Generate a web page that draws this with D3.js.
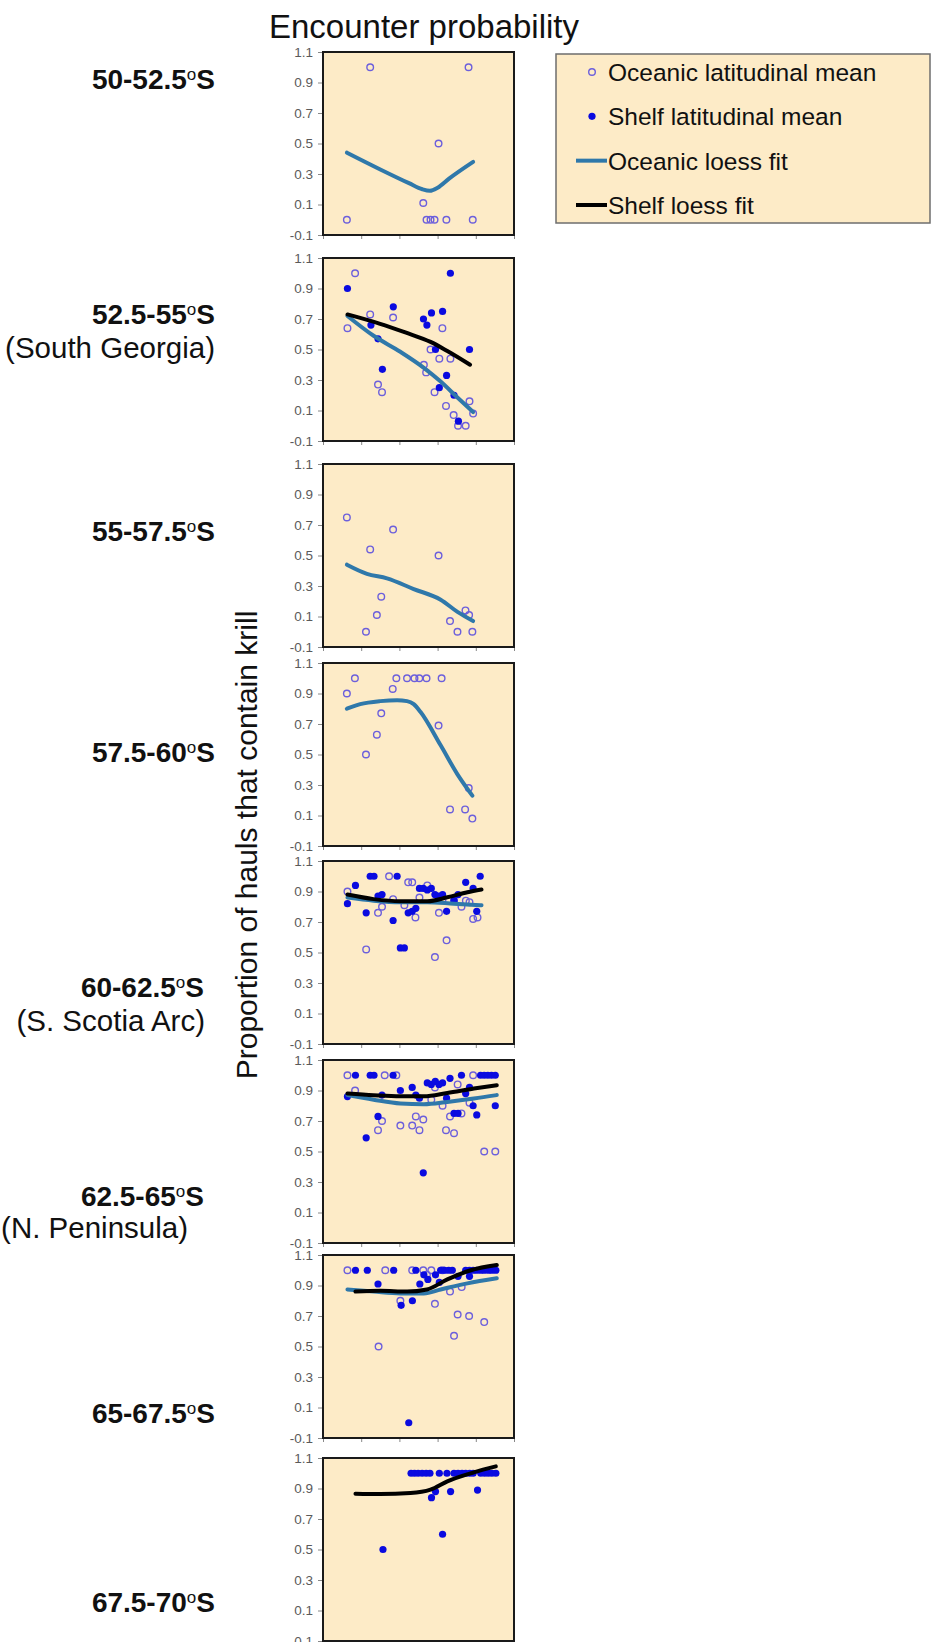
<!DOCTYPE html>
<html>
<head>
<meta charset="utf-8">
<script src="https://cdn.jsdelivr.net/npm/d3@7"></script>
<style>
  html, body { margin: 0; padding: 0; background: #fff; }
  svg { display: block; font-family: "Liberation Sans", Arial, sans-serif; }
</style>
</head>
<body>
<svg id="chart" width="933" height="1642"></svg>
<script>
// latitude bands, one panel each
const regions = ["50-52.5", "52.5-55", "55-57.5", "57.5-60", "60-62.5", "62.5-65", "65-67.5", "67.5-70"];
const subLabels = ["", "(South Georgia)", "", "", "(S. Scotia Arc)", "(N. Peninsula)", "", ""];

const yTicks = [-0.1, 0.1, 0.3, 0.5, 0.7, 0.9, 1.1];
const xTicks = [0, 20, 40, 60, 80, 100];

// oceanic latitudinal means [x, proportion]
const oceanic = [
  [[12.5,0],[24.7,1],[76.2,1],[60.5,0.5],[52.5,0.11],[54.2,0],[56.3,0],[58.4,0],[64.6,0],[78.4,0]],
  [[12.8,0.64],[16.8,1],[24.7,0.73],[36.7,0.71],[28.8,0.27],[30.9,0.22],[52.8,0.4],[54,0.35],[56.3,0.5],[58.4,0.22],
   [60.9,0.44],[62.5,0.64],[64.4,0.13],[66.7,0.44],[68.4,0.07],[70.7,0],[74.7,0],[76.7,0.16],[78.6,0.08]],
  [[12.5,0.75],[24.7,0.54],[36.7,0.67],[22.5,0],[28.2,0.11],[30.5,0.23],[60.5,0.5],[66.5,0.07],[70.4,0],[74.6,0.14],[76.5,0.11],[78.2,0]],
  [[12.5,0.9],[16.7,1],[22.5,0.5],[28.2,0.63],[30.5,0.77],[36.5,0.93],[38.4,1],[44,1],[47.9,1],[50.4,1],[54.2,1],
   [62.1,1],[60.5,0.69],[66.5,0.14],[74.4,0.14],[76.3,0.28],[78.2,0.08]],
  [[12.8,0.9],[22.6,0.52],[28.8,0.76],[30.9,0.8],[34.6,1],[36.7,0.85],[42.6,0.81],[44.6,0.96],[46.7,0.96],[48.4,0.73],
   [50.5,0.86],[54.6,0.94],[58.6,0.47],[60.7,0.76],[62.6,0.85],[64.7,0.58],[68.6,0.84],[72.5,0.8],[74.8,0.84],
   [76.7,0.83],[78.6,0.72],[80.9,0.73]],
  [[12.8,1],[16.8,0.9],[32.3,1],[38.4,1],[28.8,0.64],[30.9,0.7],[40.5,0.67],[46.7,0.67],[48.6,0.73],[50.5,0.64],
   [52.5,0.71],[56.7,0.84],[58.6,0.92],[62.6,0.8],[64.4,0.64],[66.5,0.73],[68.6,0.62],[70.5,0.94],[72.5,0.75],
   [76.7,0.82],[78.6,1],[84.4,0.5],[90.2,0.5]],
  [[12.8,1],[32.6,1],[46.7,1],[52.5,1],[56.7,1],[62.6,1],[29.1,0.5],[40.5,0.8],[58.6,0.78],[66.5,0.86],[68.6,0.57],
   [70.5,0.71],[72.6,0.89],[76.5,0.7],[84.4,0.66],[54.4,0.97]],
  []
];

// shelf latitudinal means [x, proportion]
const shelf = [
  [],
  [[12.8,0.9],[25.1,0.66],[28.8,0.57],[31.1,0.37],[36.8,0.78],[52.6,0.7],[54.4,0.66],[56.8,0.74],[58.9,0.5],
   [62.6,0.75],[64.7,0.33],[66.7,1],[60.9,0.25],[68.6,0.2],[70.9,0.03],[76.7,0.5]],
  [],
  [],
  [[12.8,0.82],[17,0.94],[22.6,0.76],[24.7,1],[26.7,1],[28.8,0.87],[30.9,0.88],[36.7,0.71],[38.8,1],[40.5,0.53],
   [42.6,0.53],[44.6,0.76],[46.7,0.77],[48.6,0.79],[50.5,0.92],[52.5,0.92],[54.6,0.91],[56.7,0.92],[58.6,0.88],
   [60.7,0.87],[62.6,0.88],[64.7,0.77],[68.6,0.84],[70.7,0.88],[74.7,0.96],[78.6,0.92],[80.5,0.77],[82.3,1]],
  [[12.8,0.86],[17,1],[24.7,1],[26.7,1],[22.6,0.59],[28.8,0.73],[30.9,0.87],[36.7,1],[40.5,0.9],[46.7,0.92],
   [48.6,0.87],[50.5,0.85],[52.5,0.36],[54.6,0.95],[56.7,0.94],[58.8,0.96],[60.7,0.94],[62.6,0.95],[64.7,0.85],
   [66.5,0.98],[68.6,0.75],[70.7,0.75],[72.5,1],[74.7,0.88],[76.7,0.92],[78.6,0.8],[80.5,0.74],[82.5,1],[84.4,1],
   [86.3,1],[88.2,1],[90.2,1],[90.2,0.8]],
  [[17,1],[23.2,1],[37,1],[48.6,1],[28.8,0.91],[40.9,0.77],[46.8,0.8],[50.7,0.91],[52.8,0.97],[54.9,0.94],
   [58.9,0.97],[60.9,0.92],[61.6,1],[63.7,1],[65.8,1],[67.7,1],[44.9,0],[70.7,0.96],[74.7,1],[76.7,1],[78.6,1],
   [80.5,1],[82.6,1],[84.4,1],[86.6,1],[88.4,1],[90.5,1],[76.7,0.96]],
  [[31.4,0.5],[46.1,1],[47.9,1],[49.8,1],[51.9,1],[54,1],[56,1],[56.8,0.84],[58.9,0.88],[60.9,1],[62.6,0.6],
   [64.9,1],[66.8,0.88],[68.6,1],[70.7,1],[72.8,1],[74.7,1],[76.8,1],[78.6,1],[80.9,0.89],[82.6,1],[84.6,1],
   [86.5,1],[88.4,1],[90.5,1]]
];

// loess fits
const oceanicFit = [
  [[12.5,0.44],[30,0.33],[45,0.24],[52,0.2],[56,0.19],[60,0.21],[66,0.27],[78.6,0.38]],
  [[12.8,0.72],[26.5,0.59],[40.5,0.485],[52.8,0.38],[61.6,0.29],[70.4,0.185],[78.6,0.09]],
  [[12.5,0.44],[23,0.38],[33.5,0.35],[47.5,0.28],[61.6,0.21],[70.4,0.13],[78.6,0.07]],
  [[12.5,0.8],[19.5,0.83],[30,0.85],[38.8,0.856],[44,0.85],[47.5,0.83],[51,0.78],[61.6,0.56],[70.4,0.37],[78.2,0.23]],
  [[12.8,0.86],[26.5,0.84],[40.5,0.83],[54.6,0.83],[68.6,0.82],[83,0.81]],
  [[12.8,0.87],[26.5,0.84],[40.5,0.815],[52.8,0.81],[65.1,0.825],[79,0.847],[91,0.87]],
  [[12.8,0.874],[26.5,0.86],[40.5,0.848],[52.8,0.848],[61.6,0.874],[75.6,0.914],[91,0.947]],
  []
];
const shelfFit = [
  [],
  [[12.8,0.73],[29.5,0.67],[43.5,0.61],[56.3,0.55],[65.1,0.49],[77,0.4]],
  [],
  [],
  [[12.8,0.88],[26.5,0.85],[40.5,0.836],[54.6,0.836],[65.1,0.862],[75.6,0.895],[83,0.913]],
  [[12.8,0.88],[26.5,0.869],[40.5,0.862],[52.8,0.862],[65.1,0.884],[79,0.913],[91,0.935]],
  [[17,0.86],[30,0.866],[44,0.86],[54.4,0.874],[65.1,0.94],[77.4,1],[91,1.034]],
  [[17,0.866],[30,0.864],[45.8,0.87],[56.3,0.892],[65.1,0.947],[79,1.006],[90.5,1.045]]
];

const legendItems = ["Oceanic latitudinal mean", "Shelf latitudinal mean", "Oceanic loess fit", "Shelf loess fit"];

// layout
const panelTop = [52, 258, 464, 663, 861, 1060, 1255, 1458];
const panelH = 183;
const panelX = 323;
const panelW = 191;
const labelY = [79, 314, 531, 752, 987, 1196, 1413, 1602];
const labelX = [215, 215, 215, 215, 204, 204, 215, 215];
const subY = [0, 348, 0, 0, 1021, 1228, 0, 0];
const subX = [0, 215, 0, 0, 205, 188, 0, 0];

const C = {
  fill: "#fdebc7",
  oce: "#6c5fdc",
  shelf: "#0a0ae0",
  oceLine: "#2f78aa",
  shelfLine: "#000",
  tick: "#5a5a5a",
};

const svg = d3.select("#chart");
svg.append("rect").attr("width", 933).attr("height", 1642).attr("fill", "#fff");

const x = d3.scaleLinear().domain([0, 100]).range([0, panelW]);
const y = d3.scaleLinear().domain([-0.1, 1.1]).range([panelH, 0]);
const line = d3.line().x((d) => x(d[0])).y((d) => y(d[1])).curve(d3.curveMonotoneX);

regions.forEach((r, i) => {
  const g = svg.append("g").attr("transform", `translate(${panelX},${panelTop[i]})`);

  g.append("rect")
    .attr("width", panelW)
    .attr("height", panelH)
    .attr("fill", C.fill);

  const ya = g.append("g")
    .call(d3.axisLeft(y).tickValues(yTicks).tickSize(5).tickPadding(5).tickFormat((d) => d.toFixed(1)));
  ya.select(".domain").remove();
  ya.selectAll("line").attr("stroke", "#888");
  ya.selectAll("text").attr("fill", C.tick).attr("font-size", 13.5).attr("font-family", "Liberation Sans, Arial, sans-serif");

  const xa = g.append("g")
    .attr("transform", `translate(0,${panelH})`)
    .call(d3.axisBottom(x).tickValues(xTicks).tickSize(4).tickFormat(""));
  xa.select(".domain").remove();
  xa.selectAll("line").attr("stroke", "#888");

  g.selectAll(".oce")
    .data(oceanic[i])
    .join("circle")
    .attr("cx", (d) => x(d[0]))
    .attr("cy", (d) => y(d[1]))
    .attr("r", 3.3)
    .attr("fill", "none")
    .attr("stroke", C.oce)
    .attr("stroke-width", 1.4);

  g.selectAll(".shelf")
    .data(shelf[i])
    .join("circle")
    .attr("cx", (d) => x(d[0]))
    .attr("cy", (d) => y(d[1]))
    .attr("r", 3.6)
    .attr("fill", C.shelf);

  if (oceanicFit[i].length) {
    g.append("path").attr("d", line(oceanicFit[i]))
      .attr("fill", "none").attr("stroke", C.oceLine).attr("stroke-width", 4).attr("stroke-linecap", "round");
  }
  if (shelfFit[i].length) {
    g.append("path").attr("d", line(shelfFit[i]))
      .attr("fill", "none").attr("stroke", C.shelfLine).attr("stroke-width", 4).attr("stroke-linecap", "round");
  }

  g.append("rect")
    .attr("width", panelW)
    .attr("height", panelH)
    .attr("fill", "none")
    .attr("stroke", "#1a1a1a")
    .attr("stroke-width", 2);

  // row label
  const t = svg.append("text")
    .attr("x", labelX[i])
    .attr("y", labelY[i] + 10)
    .attr("text-anchor", "end")
    .attr("font-size", 28)
    .attr("font-weight", "bold")
    .attr("fill", "#111");
  t.append("tspan").text(r);
  t.append("tspan").attr("font-size", 17).attr("font-weight", "normal").attr("dy", -9).text("o");
  t.append("tspan").attr("dy", 9).text("S");

  if (subLabels[i]) {
    svg.append("text")
      .attr("x", subX[i])
      .attr("y", subY[i] + 10)
      .attr("text-anchor", "end")
      .attr("font-size", 29.5)
      .attr("fill", "#111")
      .text(subLabels[i]);
  }
});

svg.append("text")
  .attr("x", 424)
  .attr("y", 38)
  .attr("text-anchor", "middle")
  .attr("font-size", 33)
  .attr("fill", "#111")
  .text("Encounter  probability");

svg.append("text")
  .attr("transform", "translate(257,845) rotate(-90)")
  .attr("text-anchor", "middle")
  .attr("font-size", 30)
  .attr("fill", "#111")
  .text("Proportion of hauls  that contain krill");

// legend
const lg = svg.append("g").attr("transform", "translate(556,54)");
lg.append("rect")
  .attr("width", 374)
  .attr("height", 169)
  .attr("fill", C.fill)
  .attr("stroke", "#6e6e6e")
  .attr("stroke-width", 1.5);

const ly = d3.scalePoint().domain(legendItems).range([18, 151]);

lg.append("circle").attr("cx", 36).attr("cy", ly(legendItems[0])).attr("r", 3.3)
  .attr("fill", "none").attr("stroke", C.oce).attr("stroke-width", 1.4);
lg.append("circle").attr("cx", 36).attr("cy", ly(legendItems[1])).attr("r", 3.6).attr("fill", C.shelf);
lg.append("line").attr("x1", 20).attr("x2", 51).attr("y1", ly(legendItems[2])).attr("y2", ly(legendItems[2]))
  .attr("stroke", C.oceLine).attr("stroke-width", 4);
lg.append("line").attr("x1", 20).attr("x2", 51).attr("y1", ly(legendItems[3])).attr("y2", ly(legendItems[3]))
  .attr("stroke", C.shelfLine).attr("stroke-width", 4);

lg.selectAll(".lt")
  .data(legendItems)
  .join("text")
  .attr("x", 52)
  .attr("y", (d) => ly(d) + 9)
  .attr("font-size", 24.5)
  .attr("fill", "#111")
  .text((d) => d);
</script>
</body>
</html>
